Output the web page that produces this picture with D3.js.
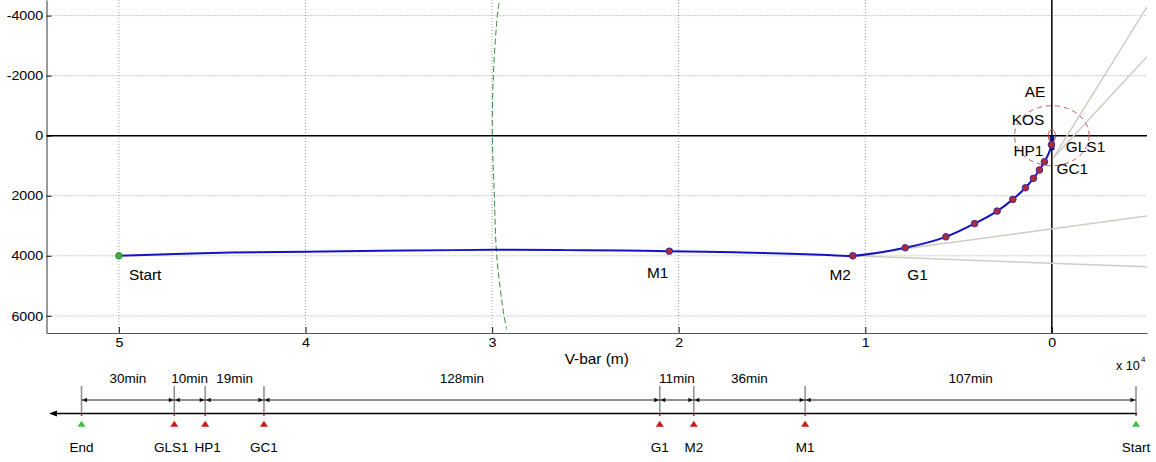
<!DOCTYPE html>
<html><head><meta charset="utf-8">
<script src="https://cdn.jsdelivr.net/npm/d3@7"></script>
<style>
html,body{margin:0;padding:0;background:#fff;}
svg{display:block;font-family:"Liberation Sans",Arial,Helvetica,sans-serif;}
</style></head><body>
<svg id="chart" width="1156" height="462"></svg>
<script>
// ---- data (metres) ----
const vbarTicks = [50000, 40000, 30000, 20000, 10000, 0];
const rbarTicks = [-4000, -2000, 0, 2000, 4000, 6000];

// relative approach trajectory: V-bar and R-bar positions
const trajV = [50000, 47000, 44000, 40000, 36000, 32000, 29000, 26000, 23000, 20500, 17000, 14000, 12000, 10665, 7860, 5680, 4140, 2930, 2090, 1415, 986, 665, 397, 150, 20, 0];
const trajR = [4000, 3940, 3890, 3860, 3830, 3810, 3800, 3810, 3825, 3845, 3880, 3930, 3975, 4000, 3733, 3367, 2927, 2510, 2120, 1733, 1420, 1143, 867, 560, 300, 0];

// manoeuvre points along the trajectory
const burnV = [20500, 10665, 7860, 5680, 4140, 2930, 2090, 1415, 986, 665, 397, 20];
const burnR = [3845, 4000, 3733, 3367, 2927, 2510, 2120, 1733, 1420, 1143, 867, 300];

// final docking segment
const dockV = [0, -20];
const dockR = [0, 480];

// approach corridor lines
const corridorV = [[10665, -5100], [10665, -5100], [-70, -5100], [-70, -5100]];
const corridorR = [[4000, 2677], [4000, 4367], [743, -4290], [743, -2633]];

// boundary curve near V-bar 30 km
const boundaryV = [29626, 29718, 29932, 29985, 29878, 29750, 29358, 29213];
const boundaryR = [-4420, -4000, -2000, 0, 2000, 4000, 6000, 6450];

// approach ellipsoid and keep-out sphere semi-axes (V-bar, R-bar)
const aeAxes = [2000, 1000];
const kosAxes = [200, 200];

// mission timeline
const events = ["Start", "M1", "M2", "G1", "GC1", "HP1", "GLS1", "End"];
const legMinutes = [107, 36, 11, 128, 19, 10, 30];
const eventIsEndpoint = [true, false, false, false, false, false, false, true];

// ---- layout ----
const svg = d3.select("#chart");
const L = 46.5, R = 1147, T = 0, B = 333;
const SX = 1.1;   // slight horizontal stretch of the glyphs

const x = d3.scaleLinear().domain([53880, -5100]).range([L, R]);
const y = d3.scaleLinear().domain([-4520, 6570]).range([T, B]);

svg.append("defs").append("clipPath").attr("id", "plotClip")
  .append("rect").attr("x", L).attr("y", T).attr("width", R - L).attr("height", B - T);

function label(g, px, py, s, anchor, size, sx) {
  return g.append("text")
    .attr("transform", `translate(${px},${py}) scale(${sx},1)`)
    .attr("text-anchor", anchor)
    .style("font-size", size + "px")
    .attr("fill", "#000")
    .text(s);
}

// grid
const grid = svg.append("g");
grid.selectAll("line.vg").data(vbarTicks.filter(d => d !== 0)).join("line")
  .attr("x1", d => x(d)).attr("x2", d => x(d)).attr("y1", T).attr("y2", B)
  .attr("stroke", "#9a9a9a").attr("stroke-width", 1).attr("stroke-dasharray", "1,2");
grid.selectAll("line.hg").data(rbarTicks.filter(d => d !== 0)).join("line")
  .attr("x1", L).attr("x2", R).attr("y1", d => y(d)).attr("y2", d => y(d))
  .attr("stroke", "#9a9a9a").attr("stroke-width", 1).attr("stroke-dasharray", "1,2");

// axes
const yAxis = svg.append("g").attr("transform", `translate(${L},0)`)
  .call(d3.axisLeft(y).tickValues(rbarTicks).tickFormat(d => String(d)).tickSize(-5).tickSizeOuter(0).tickPadding(3));
const xAxis = svg.append("g").attr("transform", `translate(0,${B})`)
  .call(d3.axisBottom(x).tickValues(vbarTicks).tickFormat(d => String(d / 1e4)).tickSize(-6).tickSizeOuter(0).tickPadding(5));
[yAxis, xAxis].forEach(a => {
  a.attr("font-family", null);
  a.select(".domain").attr("stroke", "#555").attr("stroke-width", 1.2);
  a.selectAll(".tick line").attr("stroke", "#333").attr("stroke-width", 1.2);
  a.selectAll("text").style("font-size", "13px").attr("fill", "#000")
    .attr("transform", `scale(${SX},1)`);
});

// origin lines
svg.append("line").attr("x1", L).attr("x2", R).attr("y1", y(0)).attr("y2", y(0))
  .attr("stroke", "#000").attr("stroke-width", 1.5);
svg.append("line").attr("x1", x(0)).attr("x2", x(0)).attr("y1", T).attr("y2", B)
  .attr("stroke", "#000").attr("stroke-width", 1.5);

// axis captions
label(svg, (L + R) / 2, 364, "V-bar (m)", "middle", 14, SX);
label(svg, 1116, 370, "x 10", "start", 12, 1.05);
label(svg, 1141, 362, "4", "start", 8, 1);

const plot = svg.append("g").attr("clip-path", "url(#plotClip)");

// corridor lines
plot.selectAll("line.cor").data(corridorV.map((v, i) => [v, corridorR[i]])).join("line")
  .attr("x1", d => x(d[0][0])).attr("y1", d => y(d[1][0]))
  .attr("x2", d => x(d[0][1])).attr("y2", d => y(d[1][1]))
  .attr("stroke", "#cfccc6").attr("stroke-width", 1.5);

// boundary curve
plot.append("path")
  .attr("d", d3.line().x(d => x(d)).y((d, i) => y(boundaryR[i])).curve(d3.curveCatmullRom)(boundaryV))
  .attr("fill", "none").attr("stroke", "#3d8a45").attr("stroke-width", 1).attr("stroke-dasharray", "6,3");

// approach ellipsoid
plot.append("ellipse").attr("cx", x(0)).attr("cy", y(0))
  .attr("rx", Math.abs(x(aeAxes[0]) - x(0))).attr("ry", Math.abs(y(aeAxes[1]) - y(0)))
  .attr("fill", "none").attr("stroke", "#c85a5a").attr("stroke-width", 1).attr("stroke-dasharray", "5,4");

// trajectory
plot.append("path")
  .attr("d", d3.line().x(d => x(d)).y((d, i) => y(trajR[i])).curve(d3.curveCatmullRom)(trajV))
  .attr("fill", "none").attr("stroke", "#1414c4").attr("stroke-width", 2);

plot.append("path")
  .attr("d", d3.line().x(d => x(d)).y((d, i) => y(dockR[i]))(dockV))
  .attr("fill", "none").attr("stroke", "#15157a").attr("stroke-width", 4.5);

// keep-out sphere
plot.append("ellipse").attr("cx", x(0)).attr("cy", y(0))
  .attr("rx", Math.abs(x(kosAxes[0]) - x(0))).attr("ry", Math.abs(y(kosAxes[1]) - y(0)))
  .attr("fill", "none").attr("stroke", "#c04848").attr("stroke-width", 1);

// manoeuvre points
plot.selectAll("circle.burn").data(burnV).join("circle")
  .attr("cx", d => x(d)).attr("cy", (d, i) => y(burnR[i])).attr("r", 3.3)
  .attr("fill", "#b02a3a").attr("stroke", "#3a2a9a").attr("stroke-width", 1);

plot.append("circle").attr("cx", x(trajV[0])).attr("cy", y(trajR[0])).attr("r", 3.3)
  .attr("fill", "#3cb043").attr("stroke", "#2a7a30").attr("stroke-width", 0.8);

// point labels
const ox = x(0), oy = y(0);
label(svg, x(trajV[0]) + 10, y(trajR[0]) + 24, "Start", "start", 14, SX);
label(svg, x(burnV[0]) - 1, y(burnR[0]) + 27, "M1", "end", 14, SX);
label(svg, x(burnV[1]) - 2, y(burnR[1]) + 24, "M2", "end", 14, SX);
label(svg, x(burnV[2]) + 2, y(burnR[2]) + 32, "G1", "start", 14, SX);
label(svg, x(burnV[10]) + 12, y(burnR[10]) + 12, "GC1", "start", 14, SX);
label(svg, ox - 8.5, oy + 20, "HP1", "end", 14, SX);
label(svg, ox + 14, oy + 16, "GLS1", "start", 14, SX);
label(svg, ox - 7.5, oy - 10.7, "KOS", "end", 14, SX);
label(svg, ox - 6.5, oy - 38.7, "AE", "end", 14, SX);

// ---- timeline ----
const tCum = [0, ...d3.cumsum(legMinutes)];
const tScale = d3.scaleLinear().domain([0, 341]).range([1136, 81.5]);
const tl = svg.append("g");
const axisY = 413.5, dimY = 400, tickTop = 386;
const nameShift = [0, 0, 0, 0, 0, 2.5, -3, 0];   // keeps the close GLS1 / HP1 names apart

const tipX = tScale(351.5);
tl.append("line").attr("x1", tScale(-0.3)).attr("x2", tipX + 6).attr("y1", axisY).attr("y2", axisY)
  .attr("stroke", "#000").attr("stroke-width", 1.6);
tl.append("path").attr("d", `M${tipX},${axisY}L${tipX + 8},${axisY - 3}L${tipX + 8},${axisY + 3}Z`).attr("fill", "#000");

// event ticks
tl.selectAll("line.ev").data(tCum).join("line")
  .attr("x1", d => tScale(d)).attr("x2", d => tScale(d)).attr("y1", tickTop).attr("y2", axisY - 1)
  .attr("stroke", "#8c8c8c").attr("stroke-width", 1.5);
tl.selectAll("line.evr").data(tCum).join("line")
  .attr("x1", d => tScale(d)).attr("x2", d => tScale(d)).attr("y1", axisY + 0.5).attr("y2", axisY + 2.5)
  .attr("stroke", "#c03030").attr("stroke-width", 1.5);

// duration dimensions
legMinutes.forEach((m, i) => {
  const xa = tScale(tCum[i]), xb = tScale(tCum[i + 1]);
  tl.append("line").attr("x1", xb).attr("x2", xa).attr("y1", dimY).attr("y2", dimY)
    .attr("stroke", "#222").attr("stroke-width", 1);
  tl.append("path").attr("d", `M${xa - 0.8},${dimY}L${xa - 5.5},${dimY - 2.3}L${xa - 5.5},${dimY + 2.3}Z`).attr("fill", "#111");
  tl.append("path").attr("d", `M${xb + 0.8},${dimY}L${xb + 5.5},${dimY - 2.3}L${xb + 5.5},${dimY + 2.3}Z`).attr("fill", "#111");
  label(tl, (xa + xb) / 2, 383, m + "min", "middle", 13.5, 1);
});

// event markers and names
tl.selectAll("path.tri").data(tCum).join("path")
  .attr("d", d => { const cx = tScale(d); return `M${cx},420.7L${cx + 4},426.7L${cx - 4},426.7Z`; })
  .attr("fill", (d, i) => eventIsEndpoint[i] ? "#3cc043" : "#cc1a1a");
tCum.forEach((d, i) => label(tl, tScale(d) + nameShift[i], 451.5, events[i], "middle", 13.5, 1));
</script>
</body></html>
